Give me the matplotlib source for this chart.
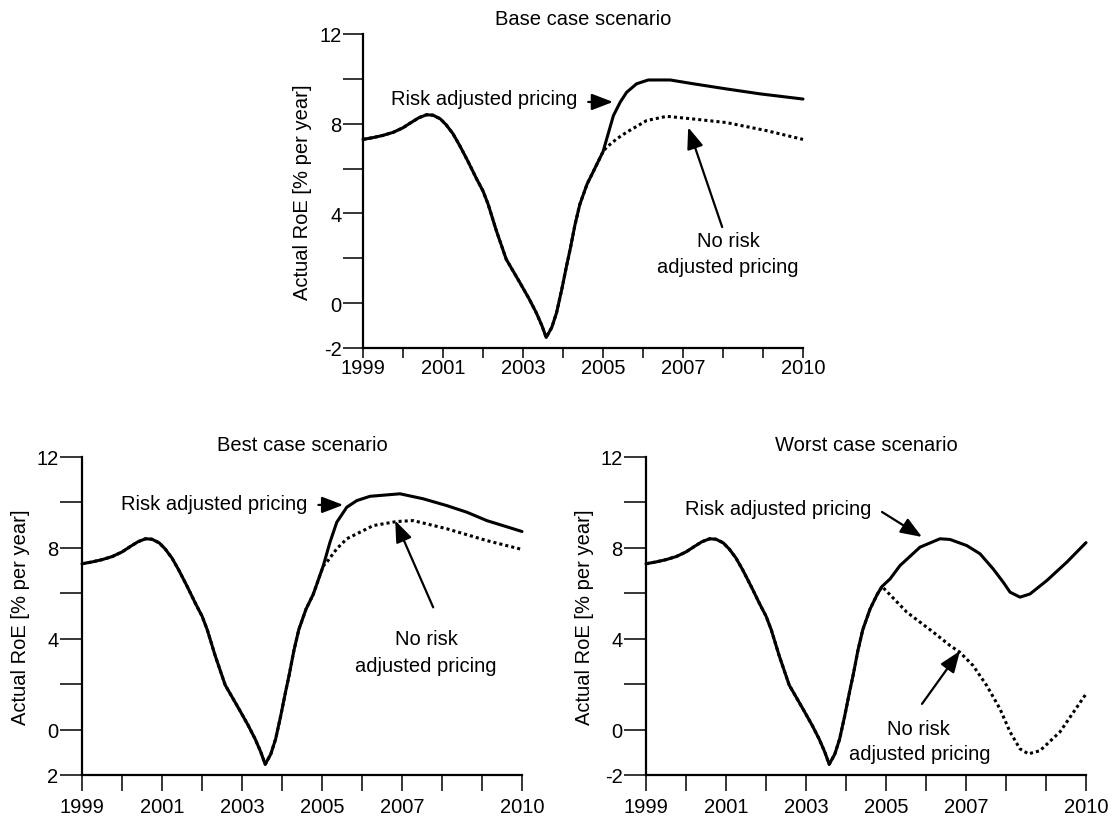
import matplotlib
matplotlib.use("Agg")
import matplotlib.pyplot as plt

plt.rcParams['font.family'] = ['Liberation Sans', 'DejaVu Sans']

# ---------------- data ----------------
hist_years = [1999.0, 1999.25, 1999.5, 1999.76, 2000.0, 2000.2, 2000.4, 2000.59, 2000.75,
              2000.93, 2001.08, 2001.25, 2001.42, 2001.63, 2001.84, 2002.0, 2002.13, 2002.33,
              2002.58, 2002.92, 2003.15, 2003.33, 2003.47, 2003.58, 2003.72, 2003.84,
              2003.97, 2004.09, 2004.18, 2004.3, 2004.42, 2004.6, 2004.78]
hist_roe = [7.3, 7.38, 7.48, 7.62, 7.82, 8.05, 8.27, 8.4, 8.38,
            8.22, 7.95, 7.55, 7.02, 6.3, 5.54, 5.0, 4.4, 3.25,
            1.96, 0.92, 0.2, -0.42, -0.99, -1.53, -1.08, -0.42,
            0.62, 1.67, 2.41, 3.5, 4.4, 5.3, 5.95]

base_risk_years = [2005.0, 2005.26, 2005.43, 2005.59, 2005.84, 2006.13, 2006.68, 2007.26,
                   2008.09, 2008.93, 2010.0]
base_risk = [6.75, 8.36, 8.96, 9.4, 9.78, 9.95, 9.95, 9.78, 9.55, 9.33, 9.1]
base_norisk_years = [2005.0, 2005.09, 2005.34, 2005.59, 2006.09, 2006.59, 2007.26,
                     2008.09, 2009.09, 2010.0]
base_norisk = [6.75, 6.95, 7.32, 7.62, 8.14, 8.33, 8.21, 8.05, 7.69, 7.3]

best_risk_years = [2005.03, 2005.2, 2005.37, 2005.62, 2005.87, 2006.2, 2006.95, 2007.53,
                   2008.12, 2008.62, 2009.12, 2010.0]
best_risk = [7.2, 8.25, 9.13, 9.79, 10.08, 10.27, 10.38, 10.16, 9.86, 9.57, 9.2, 8.72]
best_norisk_years = [2005.03, 2005.12, 2005.37, 2005.62, 2006.28, 2006.87, 2007.28,
                     2008.12, 2009.12, 2010.0]
best_norisk = [7.2, 7.37, 7.96, 8.4, 8.98, 9.16, 9.2, 8.84, 8.32, 7.93]

worst_risk_years = [2004.9, 2005.1, 2005.35, 2005.85, 2006.35, 2006.6, 2007.02, 2007.35,
                    2007.68, 2007.93, 2008.1, 2008.35, 2008.6, 2009.02, 2009.52, 2010.0]
worst_risk = [6.3, 6.63, 7.22, 8.03, 8.4, 8.37, 8.1, 7.74,
              7.07, 6.49, 6.05, 5.83, 5.97, 6.56, 7.37, 8.23]
worst_norisk_years = [2004.9, 2005.52, 2006.18, 2006.6, 2006.85, 2007.18, 2007.52, 2007.85,
                      2008.1, 2008.35, 2008.56, 2008.85, 2009.35, 2010.0]
worst_norisk = [6.3, 5.17, 4.29, 3.7, 3.4, 2.81, 1.93, 0.91,
                -0.1, -0.85, -1.07, -0.93, -0.1, 1.57]

x_ticks = list(range(1999, 2011))
x_labels = ['1999', '', '2001', '', '2003', '', '2005', '', '2007', '', '', '2010']
y_ticks = [-2, 0, 2, 4, 6, 8, 10, 12]
y_labels_std = ['-2', '0', '', '4', '', '8', '', '12']
y_labels_best = ['2', '0', '', '4', '', '8', '', '12']

titles = ['Base case scenario', 'Best case scenario', 'Worst case scenario']
ylabel = 'Actual RoE [% per year]'
risk_label = 'Risk adjusted pricing'
norisk_line1 = 'No risk'
norisk_line2 = 'adjusted pricing'

FS = 14.5
W, H = 1119, 820

fig = plt.figure(figsize=(W / 100, H / 100), dpi=100)

def make_ax(left_px, top_px, bottom_px):
    return fig.add_axes([left_px / W, 1 - bottom_px / H, 440 / W, (bottom_px - top_px) / H])

ax_base = make_ax(363, 35, 349)
ax_best = make_ax(82, 458, 776)
ax_worst = make_ax(646, 458, 776)

arrow_kw = dict(arrowstyle='-|>,head_length=0.65,head_width=0.25', mutation_scale=20,
                lw=1.6, color='black', shrinkA=0, shrinkB=0)


def setup(ax, ylabels, title, xtick_len, xpad, ytick_len, title_off):
    ax.set_xlim(1999, 2010)
    ax.set_ylim(-2, 12)
    for s in ['top', 'right']:
        ax.spines[s].set_visible(False)
    for s in ['left', 'bottom']:
        ax.spines[s].set_linewidth(1.6)
    ax.set_xticks(x_ticks)
    ax.set_xticklabels(x_labels)
    ax.set_yticks(y_ticks)
    ax.set_yticklabels(ylabels)
    ax.tick_params(axis='x', direction='out', length=xtick_len, width=1.1, pad=xpad,
                   labelsize=FS)
    ax.tick_params(axis='y', direction='out', length=ytick_len, width=1.1, pad=1,
                   labelsize=FS)
    hpx = ax.get_position().height * H
    ax.text(0.5, 1 + title_off / hpx, title, transform=ax.transAxes, ha='center',
            va='baseline', fontsize=FS)
    ax.text(-61 / 440, 0.5, ylabel, transform=ax.transAxes, rotation=90,
            ha='center', va='center', fontsize=FS)


def draw(ax, ry, rv, ny, nv):
    ax.plot(hist_years + ny, hist_roe + nv, color='black', lw=2.2,
            linestyle=(0, (1, 1)), clip_on=False, zorder=2)
    ax.plot(hist_years + ry, hist_roe + rv, color='black', lw=2.2,
            solid_capstyle='round', solid_joinstyle='round', clip_on=False, zorder=3)


# Base
setup(ax_base, y_labels_std, titles[0], 7, 0.5, 14.5, 10)
draw(ax_base, base_risk_years, base_risk, base_norisk_years, base_norisk)
ax_base.text(2002.04, 8.88, risk_label, ha='center', va='baseline', fontsize=FS)
ax_base.annotate('', xy=(2005.25, 8.97), xytext=(2004.63, 8.97), arrowprops=arrow_kw)
ax_base.text(2008.13, 2.55, norisk_line1, ha='center', va='baseline', fontsize=FS)
ax_base.text(2008.13, 1.39, norisk_line2, ha='center', va='baseline', fontsize=FS)
ax_base.annotate('', xy=(2007.13, 7.84), xytext=(2007.98, 3.39), arrowprops=arrow_kw)

# Best
setup(ax_best, y_labels_best, titles[1], 11.5, 4.5, 16, 7)
draw(ax_best, best_risk_years, best_risk, best_norisk_years, best_norisk)
ax_best.text(2002.31, 9.71, risk_label, ha='center', va='baseline', fontsize=FS)
ax_best.annotate('', xy=(2005.53, 9.89), xytext=(2004.91, 9.89), arrowprops=arrow_kw)
ax_best.text(2007.6, 3.75, norisk_line1, ha='center', va='baseline', fontsize=FS)
ax_best.text(2007.6, 2.6, norisk_line2, ha='center', va='baseline', fontsize=FS)
ax_best.annotate('', xy=(2006.83, 9.2), xytext=(2007.78, 5.38), arrowprops=arrow_kw)

# Worst
setup(ax_worst, y_labels_std, titles[2], 11.5, 4.5, 16, 7)
draw(ax_worst, worst_risk_years, worst_risk, worst_norisk_years, worst_norisk)
ax_worst.text(2002.31, 9.49, risk_label, ha='center', va='baseline', fontsize=FS)
ax_worst.annotate('', xy=(2005.9, 8.48), xytext=(2004.9, 9.58), arrowprops=arrow_kw)
ax_worst.text(2005.8, -0.195, norisk_line1, ha='center', va='baseline', fontsize=FS)
ax_worst.text(2005.85, -1.3, norisk_line2, ha='center', va='baseline', fontsize=FS)
ax_worst.annotate('', xy=(2006.85, 3.46), xytext=(2005.9, 1.13), arrowprops=arrow_kw)

fig.savefig('out.png', dpi=100)
